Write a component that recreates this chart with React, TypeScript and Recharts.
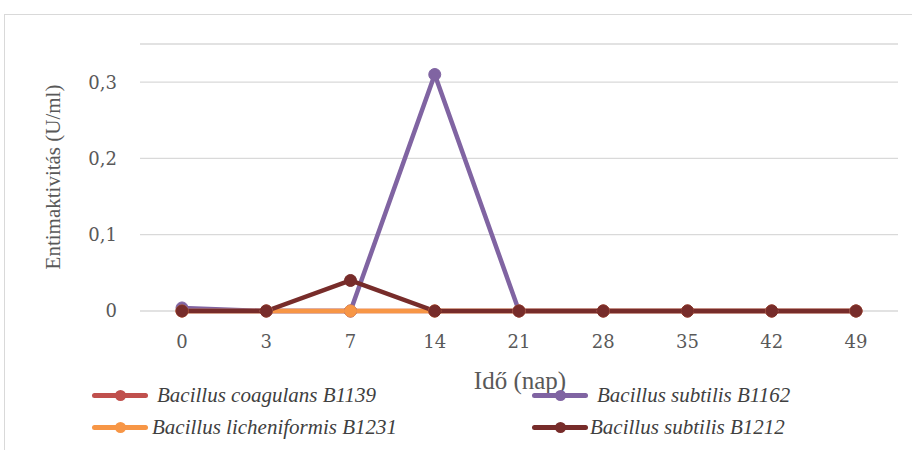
import { LineChart, Line, XAxis, YAxis, CartesianGrid } from "recharts";

// ── data ──
const days = ["0", "3", "7", "14", "21", "28", "35", "42", "49"];
const coagulansB1139 = [0, 0, 0, 0, 0, 0, 0, 0, 0];
const subtilisB1162 = [0.004, 0, 0, 0.31, 0, 0, 0, 0, 0];
const licheniformisB1231 = [0, 0, 0, 0, 0, 0, 0, 0, 0];
const subtilisB1212 = [0, 0, 0.04, 0, 0, 0, 0, 0, 0];
const yTicks = [0, 0.1, 0.2, 0.3];

const series = [
  { key: "c1139", name: "Bacillus coagulans B1139", color: "#C0504D", values: coagulansB1139 },
  { key: "s1162", name: "Bacillus subtilis B1162", color: "#8064A2", values: subtilisB1162 },
  { key: "l1231", name: "Bacillus licheniformis B1231", color: "#F79646", values: licheniformisB1231 },
  { key: "s1212", name: "Bacillus subtilis B1212", color: "#772C2A", values: subtilisB1212 },
];

const rows = days.map((d, i) => {
  const row: Record<string, string | number> = { day: d };
  series.forEach((s) => (row[s.key] = s.values[i]));
  return row;
});

// legend slots (line start x, text x, y) in the 2x2 grid
const legendPos = [
  { x: 92, tx: 157, y: 395 },
  { x: 532, tx: 597, y: 395 },
  { x: 92, tx: 152, y: 427 },
  { x: 532, tx: 590, y: 427 },
];

const serif = "'Liberation Serif', 'Times New Roman', serif";
const tickFont = "'DejaVu Serif', serif";
const grey = "#595959";

export default function App() {
  return (
    <div style={{ position: "absolute", left: 0, top: 0, width: 912, height: 450, overflow: "hidden", background: "#fff" }}>
      <div
        style={{
          position: "absolute",
          left: 4,
          top: 14,
          width: 1000,
          height: 1000,
          border: "1px solid #d9d9d9",
        }}
      />
      <div style={{ position: "absolute", left: 0, top: 0 }}>
        <LineChart
          width={912}
          height={450}
          data={rows}
          margin={{ top: 44, right: 14, bottom: 109, left: 0 }}
        >
          <CartesianGrid stroke="#d9d9d9" strokeWidth={1.3} vertical={false} />
          <XAxis
            dataKey="day"
            axisLine={false}
            tickLine={false}
            tickMargin={18}
            padding={{ left: 42, right: 42 }}
            tick={{ fill: grey, fontSize: 18, fontFamily: tickFont }}
            interval={0}
          />
          <YAxis
            width={140}
            domain={[0, 0.35]}
            ticks={yTicks}
            axisLine={false}
            tickLine={false}
            tickMargin={17}
            tickFormatter={(v: number) => (v === 0 ? "0" : v.toFixed(1).replace(".", ","))}
            tick={{ fill: grey, fontSize: 18, fontFamily: tickFont }}
          />
          {series.map((s) => (
            <Line
              key={s.key}
              dataKey={s.key}
              name={s.name}
              type="linear"
              stroke={s.color}
              strokeWidth={4.5}
              dot={{ r: 6, fill: s.color, stroke: s.color, strokeWidth: 1 }}
              isAnimationActive={false}
            />
          ))}
        </LineChart>
      </div>

      {/* axis titles */}
      <div
        style={{
          position: "absolute",
          left: 53,
          top: 177,
          transform: "translate(-50%, -50%) rotate(-90deg)",
          whiteSpace: "nowrap",
          fontFamily: serif,
          fontSize: 21,
          color: grey,
        }}
      >
        Entimaktivitás (U/ml)
      </div>
      <div
        style={{
          position: "absolute",
          left: 520,
          top: 381,
          transform: "translate(-50%, -50%)",
          whiteSpace: "nowrap",
          fontFamily: serif,
          fontSize: 25,
          color: grey,
        }}
      >
        Idő (nap)
      </div>

      {/* legend */}
      {series.map((s, i) => {
        const p = legendPos[i];
        return (
          <div key={s.key}>
            <div
              style={{
                position: "absolute",
                left: p.x,
                top: p.y - 2.5,
                width: 56,
                height: 5,
                borderRadius: 3,
                background: s.color,
              }}
            />
            <div
              style={{
                position: "absolute",
                left: p.x + 28 - 5.5,
                top: p.y - 5.5,
                width: 11,
                height: 11,
                borderRadius: "50%",
                background: s.color,
              }}
            />
            <div
              style={{
                position: "absolute",
                left: p.tx,
                top: p.y,
                transform: "translateY(-50%)",
                whiteSpace: "nowrap",
                fontFamily: serif,
                fontStyle: "italic",
                fontSize: 21,
                color: "#404040",
              }}
            >
              {s.name}
            </div>
          </div>
        );
      })}
    </div>
  );
}
